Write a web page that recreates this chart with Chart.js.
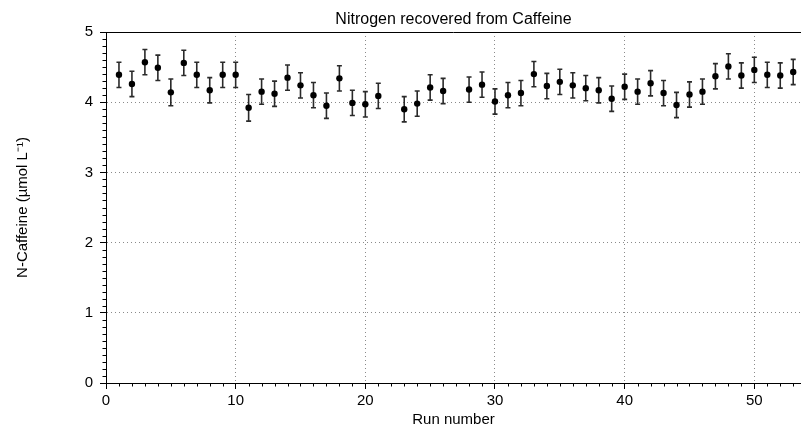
<!DOCTYPE html>
<html>
<head>
<meta charset="utf-8">
<script src="https://cdn.jsdelivr.net/npm/chart.js@4"></script>
<style>
  html, body { margin: 0; padding: 0; background: #fff; }
</style>
</head>
<body>
<canvas id="chart" width="801" height="432"></canvas>
<script>
  const chartTitle = "Nitrogen recovered from Caffeine";
  const xTitle = "Run number";
  const yTitle = "N-Caffeine (\u00b5mol L\u207b\u00b9)";

  // runs 22 and 27 are missing in the source
  const runs = [
    1, 2, 3, 4, 5, 6, 7, 8, 9, 10, 11, 12, 13, 14, 15, 16, 17, 18, 19, 20, 21,
    23, 24, 25, 26,
    28, 29, 30, 31, 32, 33, 34, 35, 36, 37, 38, 39, 40, 41, 42, 43, 44, 45, 46, 47, 48, 49, 50, 51, 52, 53,
  ];
  const caffeine = [
    4.39, 4.26, 4.57, 4.49, 4.14, 4.56, 4.39, 4.17, 4.39, 4.39, 3.92, 4.15, 4.12, 4.35, 4.24, 4.10, 3.95, 4.34, 3.99, 3.97, 4.09,
    3.90, 3.98, 4.21, 4.16,
    4.18, 4.25, 4.01, 4.10, 4.13, 4.40, 4.23, 4.29, 4.24, 4.20, 4.17, 4.05, 4.22, 4.15, 4.27, 4.13, 3.96, 4.11, 4.15, 4.37, 4.51, 4.38, 4.46, 4.39, 4.38, 4.43,
  ];
  const errors = [
    0.18, 0.18, 0.18, 0.18, 0.19, 0.18, 0.18, 0.18, 0.18, 0.18, 0.19, 0.18, 0.18, 0.18, 0.18, 0.18, 0.18, 0.18, 0.18, 0.18, 0.18,
    0.18, 0.18, 0.18, 0.18,
    0.18, 0.18, 0.18, 0.18, 0.18, 0.18, 0.18, 0.18, 0.18, 0.18, 0.18, 0.18, 0.18, 0.18, 0.18, 0.18, 0.18, 0.18, 0.18, 0.18, 0.18, 0.18, 0.18, 0.18, 0.18, 0.18,
  ];

  const xTicks = [0, 10, 20, 30, 40, 50];
  const yTicks = [0, 1, 2, 3, 4, 5];
  const xRange = [0, 53.6];
  const yRange = [0, 5];
  const xMinorStep = 1;
  const yMinorStep = 0.1;

  const font = { family: "'Liberation Sans', Arial, sans-serif", size: 15 };
  const gridColor = "#8a8a8a";

  // frame top line, minor ticks and error bars
  const extras = {
    id: "extras",
    beforeDatasetsDraw(chart) {
      const { ctx, chartArea, scales } = chart;
      const x = scales.x;
      const y = scales.y;
      ctx.save();
      ctx.strokeStyle = "#000";
      ctx.lineWidth = 1;
      ctx.beginPath();
      ctx.moveTo(chartArea.left, Math.round(chartArea.top) + 0.5);
      ctx.lineTo(chartArea.right, Math.round(chartArea.top) + 0.5);

      const nx = Math.floor((xRange[1] - xRange[0]) / xMinorStep);
      for (let i = 1; i <= nx; i++) {
        const v = xRange[0] + i * xMinorStep;
        if (xTicks.includes(v)) continue;
        const px = Math.round(x.getPixelForValue(v)) + 0.5;
        ctx.moveTo(px, chartArea.bottom);
        ctx.lineTo(px, chartArea.bottom + 3.5);
      }
      const ny = Math.round((yRange[1] - yRange[0]) / yMinorStep);
      for (let i = 1; i < ny; i++) {
        if (i % 10 === 0) continue;
        const py = Math.round(y.getPixelForValue(yRange[0] + i * yMinorStep)) + 0.5;
        ctx.moveTo(chartArea.left, py);
        ctx.lineTo(chartArea.left - 3.5, py);
      }
      ctx.stroke();

      ctx.strokeStyle = "#2a2a2a";
      ctx.lineWidth = 1.6;
      ctx.beginPath();
      runs.forEach((r, i) => {
        const px = x.getPixelForValue(r);
        const top = y.getPixelForValue(caffeine[i] + errors[i]);
        const bot = y.getPixelForValue(caffeine[i] - errors[i]);
        ctx.moveTo(px, top);
        ctx.lineTo(px, bot);
        ctx.moveTo(px - 2.5, top);
        ctx.lineTo(px + 2.5, top);
        ctx.moveTo(px - 2.5, bot);
        ctx.lineTo(px + 2.5, bot);
      });
      ctx.stroke();
      ctx.restore();
    },
  };

  new Chart(document.getElementById("chart"), {
    type: "scatter",
    data: {
      datasets: [
        {
          label: "N-Caffeine",
          data: runs.map((r, i) => ({ x: r, y: caffeine[i] })),
          backgroundColor: "#000",
          borderWidth: 0,
          pointRadius: 3.2,
          clip: false,
        },
      ],
    },
    options: {
      responsive: false,
      animation: false,
      devicePixelRatio: 1,
      layout: { padding: 0, autoPadding: false },
      plugins: {
        legend: { display: false },
        tooltip: { enabled: false },
        title: {
          display: true,
          text: chartTitle,
          fullSize: false,
          color: "#000",
          font: { ...font, size: 16, weight: "normal" },
          padding: { top: 10, bottom: 2.8 },
        },
      },
      scales: {
        x: {
          type: "linear",
          min: xRange[0],
          max: xRange[1],
          afterBuildTicks: (s) => { s.ticks = xTicks.map((v) => ({ value: v })); },
          afterFit: (s) => { s.height = 49; },
          ticks: { color: "#000", font, padding: 3, maxRotation: 0 },
          grid: {
            color: (c) => (c.tick && c.tick.value === xRange[0] ? "rgba(0,0,0,0)" : gridColor),
            lineWidth: 1,
            tickColor: "#000",
            tickLength: 6,
          },
          border: { display: true, color: "#000", width: 1, dash: [1, 3] },
          title: { display: true, text: xTitle, color: "#000", font, padding: { top: 0, bottom: 3 } },
        },
        y: {
          type: "linear",
          min: yRange[0],
          max: yRange[1],
          afterBuildTicks: (s) => { s.ticks = yTicks.map((v) => ({ value: v })); },
          afterFit: (s) => { s.width = 106; },
          ticks: { color: "#000", font, padding: 7 },
          grid: {
            color: (c) =>
              c.tick && (c.tick.value === yRange[0] || c.tick.value === yRange[1]) ? "rgba(0,0,0,0)" : gridColor,
            lineWidth: 1,
            tickColor: "#000",
            tickLength: 6,
          },
          border: { display: true, color: "#000", width: 1, dash: [1, 3] },
          title: { display: true, text: yTitle, color: "#000", font, padding: { top: 14, bottom: 0 } },
        },
      },
    },
    plugins: [extras],
  });
</script>
</body>
</html>
